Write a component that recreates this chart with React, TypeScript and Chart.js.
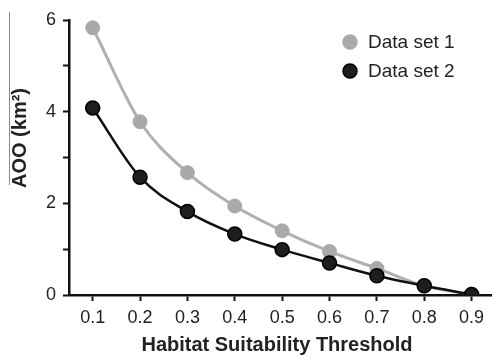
import React, { useEffect, useRef } from "react";
import { Chart, registerables } from "chart.js";

Chart.register(...registerables);

const thresholds = [0.1, 0.2, 0.3, 0.4, 0.5, 0.6, 0.7, 0.8, 0.9];
const dataSet1 = [5.83, 3.78, 2.67, 1.94, 1.4, 0.95, 0.58, 0.2, 0.02];
const dataSet2 = [4.08, 2.57, 1.82, 1.33, 0.99, 0.7, 0.42, 0.2, 0.01];
const yTicks = [0, 1, 2, 3, 4, 5, 6];
const yLabelTicks = [0, 2, 4, 6];
const seriesNames = ["Data set 1", "Data set 2"];
const xTitle = "Habitat Suitability Threshold";
const yTitle = "AOO (km²)";

const FONT = "Arial, 'Liberation Sans', sans-serif";

const decorPlugin = {
  id: "decor",
  afterDraw(chart: any) {
    const ctx = chart.ctx;
    const area = chart.chartArea;
    ctx.save();
    // stray thin line at the left edge
    ctx.strokeStyle = "#8a8a8a";
    ctx.lineWidth = 1;
    ctx.beginPath();
    ctx.moveTo(9.5, 12);
    ctx.lineTo(9.5, 185);
    ctx.stroke();

    // axis titles
    ctx.fillStyle = "#222";
    ctx.font = `bold 20px ${FONT}`;
    ctx.textAlign = "center";
    ctx.textBaseline = "middle";
    ctx.fillText(xTitle, 277, 345);
    ctx.save();
    ctx.translate(20, 138);
    ctx.rotate(-Math.PI / 2);
    ctx.fillText(yTitle, 0, 0);
    ctx.restore();

    // legend
    const items = chart.data.datasets;
    const order = [0, 1];
    order.forEach((i, k) => {
      const ds = items[i];
      const cy = 42 + k * 29;
      ctx.beginPath();
      ctx.arc(350, cy, 7, 0, Math.PI * 2);
      ctx.fillStyle = ds.pointBackgroundColor;
      ctx.fill();
      ctx.lineWidth = 1.5;
      ctx.strokeStyle = ds.pointBorderColor;
      ctx.stroke();
      ctx.fillStyle = "#222";
      ctx.font = `19px ${FONT}`;
      ctx.textAlign = "left";
      ctx.textBaseline = "middle";
      ctx.fillText(ds.label, 368, cy + 1);
    });
    ctx.restore();
  },
};

export default function App() {
  const ref = useRef<HTMLCanvasElement | null>(null);
  useEffect(() => {
    document.body.style.margin = "0";
    const canvas = ref.current;
    if (!canvas) return;
    const chart = new Chart(canvas, {
      type: "line",
      data: {
        datasets: [
          {
            label: seriesNames[0],
            data: thresholds.map((x, i) => ({ x, y: dataSet1[i] })),
            borderColor: "#b0b0b0",
            borderWidth: 3,
            pointBackgroundColor: "#a9a9a9",
            pointBorderColor: "#a9a9a9",
            pointBorderWidth: 1,
            pointRadius: 7,
            cubicInterpolationMode: "monotone",
            order: 2,
          } as any,
          {
            label: seriesNames[1],
            data: thresholds.map((x, i) => ({ x, y: dataSet2[i] })),
            borderColor: "#111111",
            borderWidth: 2.5,
            pointBackgroundColor: "#1e1e1e",
            pointBorderColor: "#000000",
            pointBorderWidth: 1.5,
            pointRadius: 7,
            cubicInterpolationMode: "monotone",
            order: 1,
          } as any,
        ],
      },
      options: {
        animation: false,
        responsive: true,
        maintainAspectRatio: false,
        layout: { padding: { top: 20, right: 0, left: 0, bottom: 0 } },
        plugins: { legend: { display: false }, tooltip: { enabled: false } },
        scales: {
          x: {
            type: "linear",
            min: 0.05,
            max: 0.942,
            afterBuildTicks: (scale: any) => {
              scale.ticks = thresholds.map((v) => ({ value: v }));
            },
            afterFit: (scale: any) => {
              scale.height = 62;
            },
            grid: {
              drawOnChartArea: false,
              drawTicks: true,
              tickLength: 6,
              tickColor: "#111",
              tickWidth: 2,
            },
            border: { display: true, color: "#111", width: 2.5 },
            ticks: {
              color: "#222",
              font: { family: FONT, size: 18 },
              padding: 6,
              maxRotation: 0,
              autoSkip: false,
              callback: (v: any) => Number(v).toFixed(1),
            },
          },
          y: {
            min: 0,
            max: 6,
            afterBuildTicks: (scale: any) => {
              scale.ticks = yTicks.map((v) => ({ value: v }));
            },
            afterFit: (scale: any) => {
              scale.width = 69;
            },
            grid: {
              drawOnChartArea: false,
              drawTicks: true,
              tickLength: 6,
              tickColor: "#111",
              tickWidth: 2,
            },
            border: { display: true, color: "#111", width: 2.5 },
            ticks: {
              color: "#222",
              font: { family: FONT, size: 18 },
              padding: 7,
              autoSkip: false,
              callback: (v: any) => (yLabelTicks.includes(Number(v)) ? String(v) : ""),
            },
          },
        },
      },
      plugins: [decorPlugin],
    });
    return () => chart.destroy();
  }, []);
  return (
    <div style={{ width: 500, height: 357, position: "relative" }}>
      <canvas ref={ref} />
    </div>
  );
}
